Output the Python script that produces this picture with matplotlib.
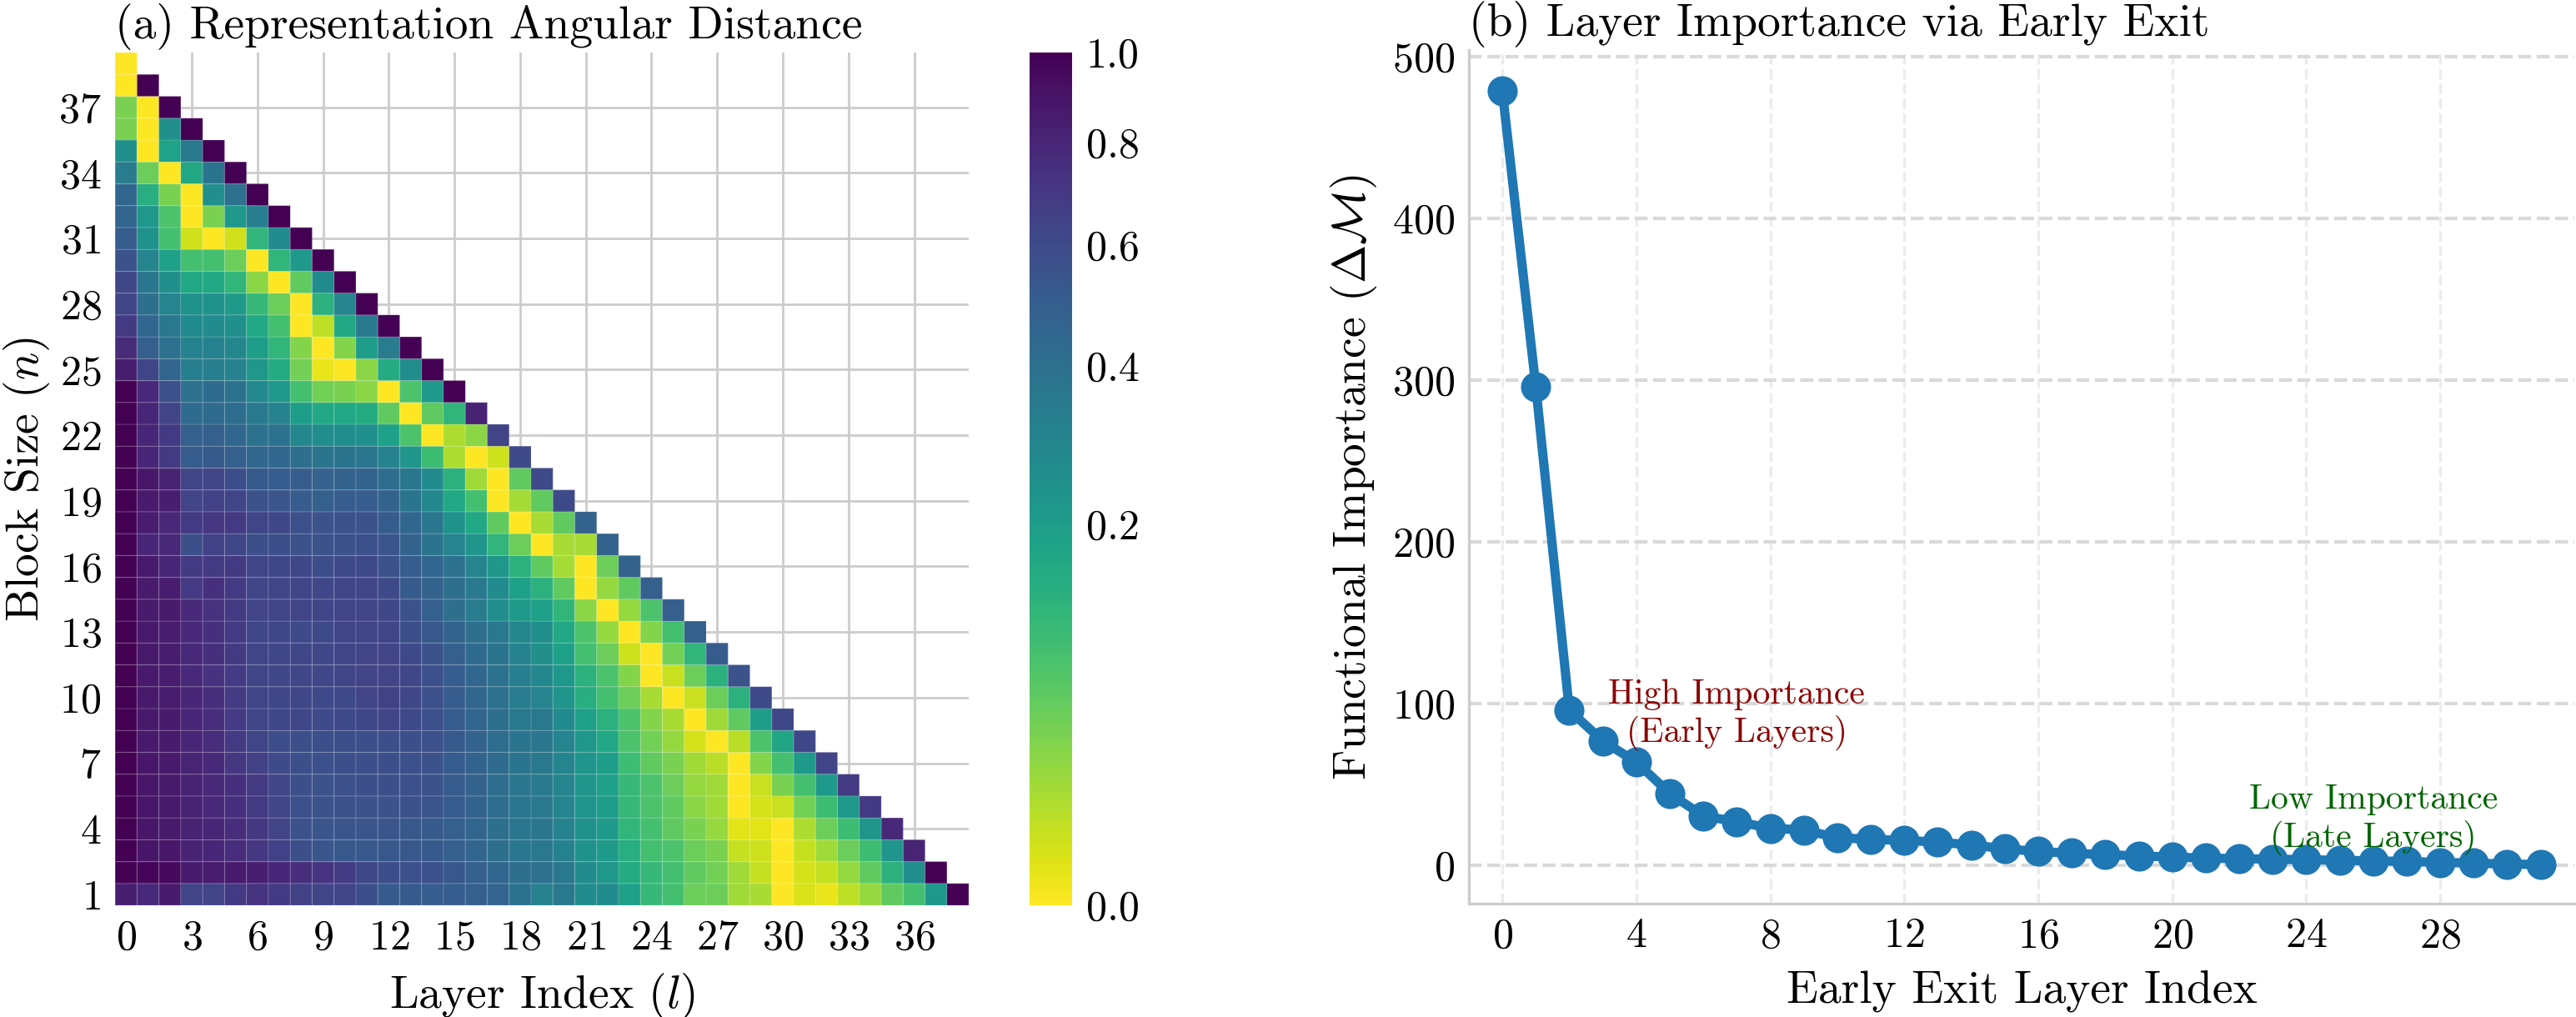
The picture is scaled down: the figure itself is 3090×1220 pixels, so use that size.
"""Angular distance heatmap and early-exit layer importance, side by side."""

import numpy as np
import matplotlib

matplotlib.use("Agg")
import matplotlib.pyplot as plt
from matplotlib.colors import PowerNorm

plt.rcParams["font.family"] = "cmr10"
plt.rcParams["mathtext.fontset"] = "cm"
plt.rcParams["axes.formatter.use_mathtext"] = True

# angular distance per block size n (row index 0 -> n=1), one value per start layer l
angular_rows = [
    [0.84, 0.78, 0.86, 0.64, 0.64, 0.69, 0.72, 0.69, 0.65, 0.63, 0.63, 0.58, 0.52, 0.52, 0.50, 0.50, 0.49, 0.46, 0.39,
     0.31, 0.36, 0.27, 0.27, 0.19, 0.11, 0.09, 0.05, 0.05, 0.02, 0.017, 0.0, 0.003, 0.001, 0.01, 0.025, 0.06, 0.09, 0.22, 1.0],
    [1.0, 0.97, 0.95, 0.86, 0.85, 0.86, 0.84, 0.80, 0.76, 0.72, 0.68, 0.62, 0.59, 0.57, 0.57, 0.53, 0.49, 0.45, 0.41,
     0.40, 0.36, 0.27, 0.22, 0.15, 0.11, 0.09, 0.06, 0.045, 0.02, 0.008, 0.0, 0.004, 0.008, 0.025, 0.06, 0.13, 0.26, 1.0],
    [1.0, 0.89, 0.88, 0.82, 0.80, 0.76, 0.71, 0.66, 0.58, 0.54, 0.53, 0.53, 0.53, 0.53, 0.52, 0.49, 0.46, 0.41, 0.37,
     0.36, 0.32, 0.24, 0.21, 0.14, 0.09, 0.08, 0.05, 0.04, 0.008, 0.006, 0.0, 0.008, 0.02, 0.05, 0.10, 0.23, 0.81],
    [1.0, 0.88, 0.87, 0.82, 0.80, 0.76, 0.70, 0.64, 0.56, 0.54, 0.54, 0.54, 0.54, 0.53, 0.52, 0.49, 0.46, 0.41, 0.37,
     0.37, 0.31, 0.24, 0.21, 0.12, 0.09, 0.06, 0.04, 0.025, 0.002, 0.002, 0.0, 0.015, 0.05, 0.10, 0.23, 0.79],
    [1.0, 0.88, 0.87, 0.82, 0.79, 0.74, 0.69, 0.63, 0.57, 0.56, 0.56, 0.56, 0.56, 0.56, 0.55, 0.51, 0.47, 0.42, 0.37,
     0.36, 0.30, 0.23, 0.20, 0.11, 0.08, 0.06, 0.03, 0.02, 0.0, 0.004, 0.007, 0.045, 0.10, 0.22, 0.69],
    [1.0, 0.88, 0.87, 0.82, 0.79, 0.74, 0.69, 0.63, 0.58, 0.56, 0.57, 0.58, 0.58, 0.57, 0.56, 0.51, 0.47, 0.42, 0.37,
     0.35, 0.30, 0.23, 0.19, 0.11, 0.08, 0.05, 0.025, 0.02, 0.0, 0.007, 0.04, 0.09, 0.21, 0.69],
    [1.0, 0.88, 0.87, 0.81, 0.78, 0.71, 0.65, 0.60, 0.58, 0.57, 0.58, 0.58, 0.58, 0.57, 0.56, 0.51, 0.47, 0.43, 0.38,
     0.36, 0.30, 0.23, 0.20, 0.10, 0.06, 0.04, 0.02, 0.011, 0.0, 0.035, 0.09, 0.21, 0.64],
    [1.0, 0.87, 0.86, 0.80, 0.76, 0.69, 0.63, 0.59, 0.58, 0.58, 0.58, 0.58, 0.58, 0.58, 0.57, 0.52, 0.47, 0.42, 0.38,
     0.37, 0.30, 0.22, 0.16, 0.08, 0.045, 0.025, 0.004, 0.0, 0.011, 0.08, 0.17, 0.62],
    [1.0, 0.87, 0.86, 0.80, 0.76, 0.68, 0.63, 0.62, 0.62, 0.60, 0.60, 0.62, 0.63, 0.61, 0.57, 0.51, 0.46, 0.41, 0.36,
     0.36, 0.27, 0.19, 0.13, 0.08, 0.035, 0.017, 0.0, 0.02, 0.06, 0.20, 0.62],
    [1.0, 0.87, 0.85, 0.80, 0.75, 0.68, 0.63, 0.62, 0.62, 0.61, 0.61, 0.64, 0.65, 0.62, 0.57, 0.50, 0.45, 0.40, 0.34,
     0.30, 0.23, 0.14, 0.09, 0.05, 0.017, 0.0, 0.007, 0.05, 0.13, 0.61],
    [1.0, 0.87, 0.85, 0.79, 0.73, 0.68, 0.63, 0.62, 0.62, 0.62, 0.63, 0.64, 0.64, 0.62, 0.57, 0.50, 0.45, 0.39, 0.33,
     0.29, 0.22, 0.13, 0.08, 0.035, 0.0, 0.007, 0.05, 0.13, 0.56],
    [1.0, 0.87, 0.85, 0.79, 0.74, 0.69, 0.63, 0.62, 0.62, 0.62, 0.63, 0.64, 0.64, 0.61, 0.56, 0.49, 0.43, 0.38, 0.31,
     0.25, 0.19, 0.09, 0.05, 0.006, 0.0, 0.045, 0.12, 0.51],
    [1.0, 0.87, 0.85, 0.78, 0.74, 0.69, 0.62, 0.62, 0.60, 0.61, 0.63, 0.63, 0.63, 0.58, 0.53, 0.47, 0.41, 0.36, 0.29,
     0.25, 0.16, 0.08, 0.025, 0.0, 0.035, 0.09, 0.49],
    [1.0, 0.86, 0.86, 0.78, 0.73, 0.69, 0.64, 0.64, 0.64, 0.63, 0.64, 0.64, 0.62, 0.56, 0.49, 0.41, 0.34, 0.26, 0.21,
     0.19, 0.12, 0.03, 0.0, 0.025, 0.08, 0.49],
    [1.0, 0.86, 0.85, 0.69, 0.74, 0.69, 0.63, 0.63, 0.63, 0.62, 0.63, 0.63, 0.61, 0.52, 0.47, 0.41, 0.35, 0.27, 0.19,
     0.13, 0.06, 0.0, 0.025, 0.06, 0.49],
    [1.0, 0.87, 0.80, 0.69, 0.69, 0.69, 0.63, 0.62, 0.62, 0.59, 0.61, 0.61, 0.56, 0.50, 0.45, 0.39, 0.30, 0.22, 0.13,
     0.06, 0.018, 0.0, 0.05, 0.47],
    [1.0, 0.80, 0.78, 0.58, 0.66, 0.62, 0.58, 0.58, 0.56, 0.56, 0.56, 0.57, 0.54, 0.47, 0.38, 0.30, 0.23, 0.12, 0.05,
     0.0, 0.017, 0.017, 0.47],
    [1.0, 0.85, 0.78, 0.69, 0.71, 0.69, 0.63, 0.62, 0.57, 0.56, 0.56, 0.56, 0.51, 0.45, 0.37, 0.24, 0.16, 0.06, 0.0,
     0.017, 0.06, 0.47],
    [1.0, 0.86, 0.84, 0.64, 0.66, 0.63, 0.56, 0.54, 0.50, 0.49, 0.50, 0.50, 0.47, 0.38, 0.29, 0.16, 0.09, 0.0, 0.018,
     0.06, 0.61],
    [1.0, 0.88, 0.82, 0.63, 0.64, 0.59, 0.52, 0.51, 0.50, 0.48, 0.47, 0.47, 0.42, 0.37, 0.27, 0.13, 0.02, 0.0, 0.06, 0.61],
    [1.0, 0.80, 0.69, 0.51, 0.52, 0.49, 0.45, 0.45, 0.41, 0.38, 0.38, 0.37, 0.31, 0.23, 0.10, 0.015, 0.0, 0.006, 0.61],
    [1.0, 0.80, 0.69, 0.49, 0.49, 0.45, 0.39, 0.39, 0.29, 0.26, 0.26, 0.25, 0.19, 0.08, 0.0, 0.015, 0.03, 0.64],
    [1.0, 0.80, 0.64, 0.43, 0.43, 0.42, 0.35, 0.31, 0.20, 0.16, 0.16, 0.15, 0.06, 0.0, 0.06, 0.12, 0.82],
    [1.0, 0.78, 0.57, 0.40, 0.43, 0.39, 0.28, 0.22, 0.09, 0.045, 0.04, 0.03, 0.0, 0.08, 0.21, 1.0],
    [0.85, 0.63, 0.46, 0.33, 0.33, 0.31, 0.22, 0.15, 0.045, 0.001, 0.0, 0.03, 0.15, 0.26, 1.0],
    [0.77, 0.49, 0.40, 0.31, 0.32, 0.29, 0.20, 0.12, 0.035, 0.0, 0.035, 0.20, 0.34, 1.0],
    [0.69, 0.45, 0.36, 0.27, 0.27, 0.25, 0.16, 0.09, 0.0, 0.01, 0.16, 0.35, 1.0],
    [0.63, 0.41, 0.30, 0.24, 0.24, 0.21, 0.11, 0.05, 0.0, 0.13, 0.30, 1.0],
    [0.62, 0.37, 0.25, 0.16, 0.16, 0.12, 0.03, 0.0, 0.06, 0.27, 1.0],
    [0.56, 0.30, 0.19, 0.09, 0.09, 0.05, 0.0, 0.12, 0.21, 1.0],
    [0.50, 0.24, 0.09, 0.005, 0.0, 0.005, 0.12, 0.27, 1.0],
    [0.46, 0.22, 0.08, 0.0, 0.04, 0.22, 0.33, 1.0],
    [0.45, 0.14, 0.04, 0.0, 0.25, 0.40, 1.0],
    [0.34, 0.05, 0.0, 0.16, 0.38, 1.0],
    [0.25, 0.0, 0.18, 0.36, 1.0],
    [0.04, 0.0, 0.25, 1.0],
    [0.04, 0.0, 1.0],
    [0.0, 1.0],
    [0.0],
]
n_layers = 39
layer_ticks = list(range(0, 39, 3))
block_ticks = list(range(1, 40, 3))
cbar_ticks = [0.0, 0.2, 0.4, 0.6, 0.8, 1.0]

# functional importance (delta M) when exiting early at each layer
importance = [478.8, 295.9, 95.9, 76.8, 63.8, 44.4, 30.4, 27.0, 22.9, 21.8, 17.1, 16.0, 15.4, 14.3, 12.6, 10.2,
              8.5, 7.5, 6.5, 5.8, 5.1, 4.4, 4.1, 3.8, 3.4, 3.1, 2.7, 2.4, 1.7, 1.4, 0.7, 0.5]
exit_ticks = list(range(0, 32, 4))
importance_ticks = [0, 100, 200, 300, 400, 500]


def draw_heatmap(fig):
    ax = fig.add_axes([0.0447, 0.1098, 0.3314, 0.8385])
    grid = np.full((len(angular_rows), n_layers), np.nan)
    for i, row in enumerate(angular_rows):
        grid[i, :len(row)] = row
    x_edges = np.arange(n_layers + 1) - 0.5
    y_edges = np.arange(len(angular_rows) + 1) + 0.5
    mesh = ax.pcolor(x_edges, y_edges, np.ma.masked_invalid(grid), cmap="viridis_r",
                     norm=PowerNorm(gamma=0.5, vmin=0, vmax=1),
                     edgecolors=(1, 1, 1, 0.1), linewidth=0.5)
    ax.set_xlim(-0.5, n_layers - 0.5)
    ax.set_ylim(0.5, len(angular_rows) + 0.5)
    ax.set_xticks(layer_ticks)
    ax.set_yticks(block_ticks)
    ax.grid(True, color="#cccccc", linewidth=1.0)
    ax.set_axisbelow(True)
    for s in ax.spines.values():
        s.set_visible(False)
    ax.tick_params(length=0, labelsize=18, pad=6)
    ax.set_xlabel(r"Layer Index ($l$)", fontsize=20, labelpad=6)
    ax.set_ylabel(r"Block Size ($n$)", fontsize=20, labelpad=3)
    ax.set_title("(a) Representation Angular Distance", loc="left", fontsize=20, pad=6)

    cax = fig.add_axes([0.3997, 0.1098, 0.0165, 0.8385])
    cb = fig.colorbar(mesh, cax=cax)
    cb.outline.set_visible(False)
    cb.set_ticks(cbar_ticks)
    cb.set_ticklabels([f"{t:.1f}" for t in cbar_ticks])
    cax.tick_params(length=0, labelsize=18, pad=6)


def draw_importance(fig):
    ax = fig.add_axes([0.5702, 0.1115, 0.4291, 0.8393])
    ax.plot(range(len(importance)), importance, "-o", color="#1f77b4", linewidth=4, markersize=12, zorder=3)
    ax.set_xlim(-1, 32)
    ax.set_ylim(-23.7, 504)
    ax.set_xticks(exit_ticks)
    ax.set_yticks(importance_ticks)
    ax.yaxis.grid(True, linestyle="--", color="#d9d9d9", linewidth=1.5)
    ax.xaxis.grid(True, linestyle="--", color="#ececec", linewidth=1.2)
    ax.set_axisbelow(True)
    for side in ("top", "right"):
        ax.spines[side].set_visible(False)
    for side in ("left", "bottom"):
        ax.spines[side].set_color("#cccccc")
        ax.spines[side].set_linewidth(1.2)
    ax.tick_params(length=0, labelsize=18, pad=6)
    ax.set_xlabel("Early Exit Layer Index", fontsize=20, labelpad=6)
    ax.set_ylabel(r"Functional Importance ($\Delta \mathcal{M}$)", fontsize=20, labelpad=6)
    ax.set_title("(b) Layer Importance via Early Exit", loc="left", fontsize=20, pad=6)
    ax.text(7, 93, "High Importance\n(Early Layers)", color="darkred", fontsize=15,
            ha="center", va="center", zorder=4)
    ax.text(26, 28, "Low Importance\n(Late Layers)", color="darkgreen", fontsize=15,
            ha="center", va="center", zorder=4)


fig = plt.figure(figsize=(15.45, 6.1), dpi=200)
draw_heatmap(fig)
draw_importance(fig)
fig.savefig("out.png", dpi=200)
